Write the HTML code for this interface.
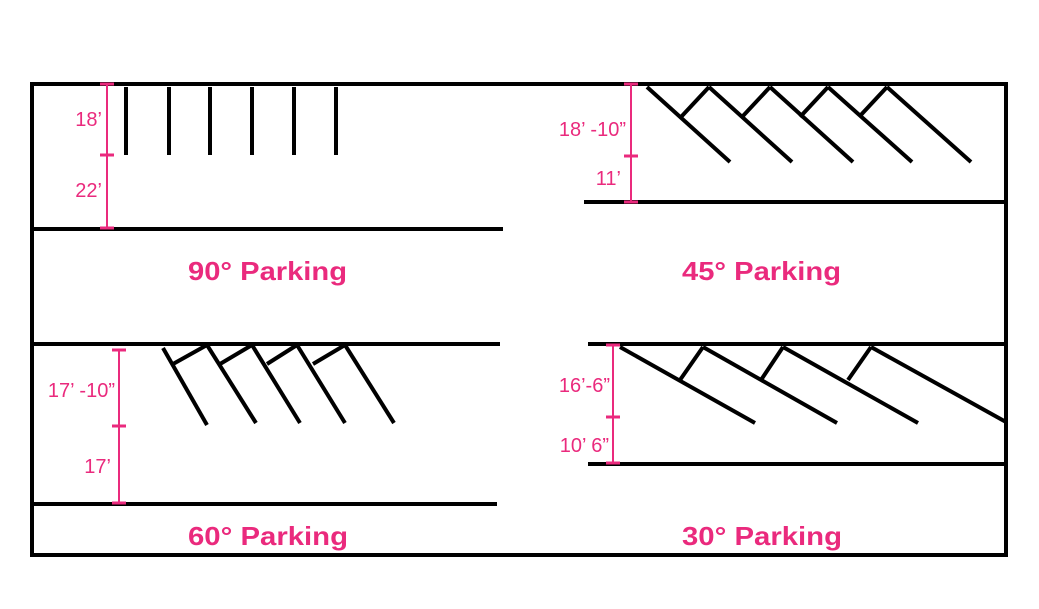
<!DOCTYPE html>
<html><head><meta charset="utf-8"><style>
html,body{margin:0;padding:0;background:#fff;}
svg{display:block;}
.b{stroke:#000;stroke-width:4;fill:none;stroke-linecap:butt;}
.p{stroke:#ea2a7d;stroke-width:2;fill:none;}
.pt{stroke:#ea2a7d;stroke-width:3;fill:none;}
.t{font-family:"Liberation Sans",sans-serif;fill:#ea2a7d;font-weight:bold;font-size:26px;}
.d{font-family:"Liberation Sans",sans-serif;fill:#ea2a7d;font-size:20px;}
</style></head><body>
<svg width="1039" height="609" viewBox="0 0 1039 609">
<rect x="32" y="84" width="974" height="471" fill="none" stroke="#000" stroke-width="4"/>
<!-- 90 -->
<g class="b">
<line x1="126" y1="87" x2="126" y2="155"/><line x1="169" y1="87" x2="169" y2="155"/>
<line x1="210" y1="87" x2="210" y2="155"/><line x1="252" y1="87" x2="252" y2="155"/>
<line x1="294" y1="87" x2="294" y2="155"/><line x1="336" y1="87" x2="336" y2="155"/>
<line x1="32" y1="229" x2="503" y2="229"/>
</g>
<line class="p" x1="107" y1="84" x2="107" y2="228"/>
<g class="pt"><line x1="100" y1="84" x2="114" y2="84"/><line x1="100" y1="155" x2="114" y2="155"/><line x1="100" y1="228" x2="114" y2="228"/></g>
<text class="d" x="102" y="126" text-anchor="end">18’</text>
<text class="d" x="102" y="197" text-anchor="end">22’</text>
<text class="t" x="188" y="280" textLength="159" lengthAdjust="spacingAndGlyphs">90° Parking</text>
<!-- 45 -->
<g class="b">
<line x1="647" y1="87" x2="730" y2="162"/>
<line x1="709" y1="87" x2="792" y2="162"/><line x1="709" y1="87" x2="681" y2="117"/>
<line x1="770" y1="87" x2="853" y2="162"/><line x1="770" y1="87" x2="742" y2="117"/>
<line x1="828" y1="87" x2="912" y2="162"/><line x1="828" y1="87" x2="800" y2="117"/>
<line x1="887" y1="87" x2="971" y2="162"/><line x1="887" y1="87" x2="859" y2="117"/>
<line x1="584" y1="202" x2="1006" y2="202"/>
</g>
<line class="p" x1="631" y1="84" x2="631" y2="202"/>
<g class="pt"><line x1="624" y1="84" x2="638" y2="84"/><line x1="624" y1="156" x2="638" y2="156"/><line x1="624" y1="202" x2="638" y2="202"/></g>
<text class="d" x="626" y="136" text-anchor="end">18’ -10”</text>
<text class="d" x="621" y="185" text-anchor="end">11’</text>
<text class="t" x="682" y="280" textLength="159" lengthAdjust="spacingAndGlyphs">45° Parking</text>
<!-- middle line -->
<line class="b" x1="32" y1="344" x2="500" y2="344"/>
<!-- 60 -->
<g class="b">
<line x1="163" y1="348" x2="207" y2="425"/>
<line x1="207" y1="345" x2="256" y2="423"/><line x1="207" y1="345" x2="173" y2="364"/>
<line x1="252" y1="345" x2="300" y2="423"/><line x1="252" y1="345" x2="220" y2="364"/>
<line x1="297" y1="345" x2="345" y2="423"/><line x1="297" y1="345" x2="267" y2="364"/>
<line x1="345" y1="345" x2="394" y2="423"/><line x1="345" y1="345" x2="313" y2="364"/>
<line x1="32" y1="504" x2="497" y2="504"/>
</g>
<line class="p" x1="119" y1="350" x2="119" y2="503"/>
<g class="pt"><line x1="112" y1="350" x2="126" y2="350"/><line x1="112" y1="426" x2="126" y2="426"/><line x1="112" y1="503" x2="126" y2="503"/></g>
<text class="d" x="115" y="397" text-anchor="end">17’ -10”</text>
<text class="d" x="111" y="473" text-anchor="end">17’</text>
<text class="t" x="188" y="545" textLength="160" lengthAdjust="spacingAndGlyphs">60° Parking</text>
<!-- 30 -->
<g class="b">
<line x1="588" y1="344" x2="1006" y2="344"/>
<line x1="620" y1="347" x2="755" y2="423"/>
<line x1="703" y1="347" x2="837" y2="423"/><line x1="703" y1="347" x2="680" y2="380"/>
<line x1="783" y1="347" x2="918" y2="423"/><line x1="783" y1="347" x2="761" y2="380"/>
<line x1="871" y1="347" x2="1006" y2="422"/><line x1="871" y1="347" x2="848" y2="380"/>
<line x1="588" y1="464" x2="1006" y2="464"/>
</g>
<line class="p" x1="613" y1="345" x2="613" y2="463"/>
<g class="pt"><line x1="606" y1="345" x2="620" y2="345"/><line x1="606" y1="417" x2="620" y2="417"/><line x1="606" y1="463" x2="620" y2="463"/></g>
<text class="d" x="610" y="392" text-anchor="end">16’-6”</text>
<text class="d" x="609" y="452" text-anchor="end">10’ 6”</text>
<text class="t" x="682" y="545" textLength="160" lengthAdjust="spacingAndGlyphs">30° Parking</text>
</svg>
</body></html>
